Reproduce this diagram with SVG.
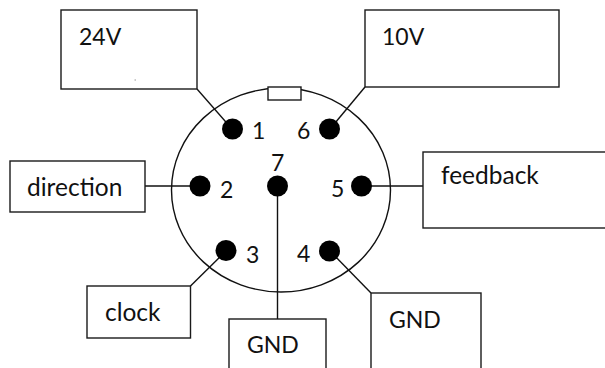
<svg xmlns="http://www.w3.org/2000/svg" width="605" height="368" viewBox="0 0 605 368">
<style>
.b{fill:#fff;stroke:#1a1a1a;stroke-width:1.4}
.l{fill:none;stroke:#111;stroke-width:1.4}
.d{fill:#000}
text{font-family:"Lato","Open Sans",sans-serif;font-size:23px;fill:#111}
.w{font-size:24.5px}
</style>
<rect width="605" height="368" fill="#fff"/>
<g id="connector-body">
<ellipse class="l" cx="281" cy="190" rx="109.5" ry="102"/>
<rect class="b" x="268" y="87" width="33" height="13"/>
</g>
<g id="connectors">
<line class="l" x1="197" y1="89" x2="232" y2="129"/>
<line class="l" x1="365" y1="87" x2="330" y2="129"/>
<line class="l" x1="145" y1="186" x2="200" y2="186"/>
<line class="l" x1="361" y1="186" x2="423" y2="186"/>
<line class="l" x1="190.500" y1="286" x2="226" y2="251"/>
<line class="l" x1="371" y1="293" x2="330" y2="251"/>
<line class="l" x1="277.500" y1="186" x2="277.500" y2="319"/>
</g>
<g id="node-24v"><rect class="b" x="61" y="10" width="136" height="79"/><text x="79" y="45">24V</text><rect x="134.500" y="79.500" width="1.500" height="1" fill="#999"/></g>
<g id="node-10v"><rect class="b" x="365" y="10" width="194" height="77"/><text x="382" y="45">10V</text></g>
<g id="node-direction"><rect class="b" x="10" y="161" width="135" height="51"/><text class="w" x="27" y="196">direction</text></g>
<g id="node-feedback"><rect class="b" x="423" y="152" width="190" height="76"/><text class="w" x="441" y="184">feedback</text></g>
<g id="node-clock"><rect class="b" x="87" y="286" width="103.500" height="52"/><text class="w" x="105" y="321">clock</text></g>
<g id="node-gnd-center"><rect class="b" x="229" y="319" width="97" height="60"/><text x="247" y="353">GND</text></g>
<g id="node-gnd-right"><rect class="b" x="371" y="293" width="110" height="85"/><text x="389" y="327.500">GND</text></g>
<g id="pin-1"><circle class="d" cx="232.500" cy="129" r="10.500"/><text x="252" y="139">1</text></g>
<g id="pin-6"><circle class="d" cx="329.500" cy="129" r="10.500"/><text x="297" y="139">6</text></g>
<g id="pin-7"><circle class="d" cx="277.500" cy="186" r="10.500"/><text x="271" y="171">7</text></g>
<g id="pin-2"><circle class="d" cx="200" cy="186" r="10.500"/><text x="220" y="198">2</text></g>
<g id="pin-5"><circle class="d" cx="361.500" cy="186" r="10.500"/><text x="331" y="197">5</text></g>
<g id="pin-3"><circle class="d" cx="226" cy="250.500" r="10.500"/><text x="246" y="263">3</text></g>
<g id="pin-4"><circle class="d" cx="329.500" cy="251" r="10.500"/><text x="297" y="262">4</text></g>
</svg>
